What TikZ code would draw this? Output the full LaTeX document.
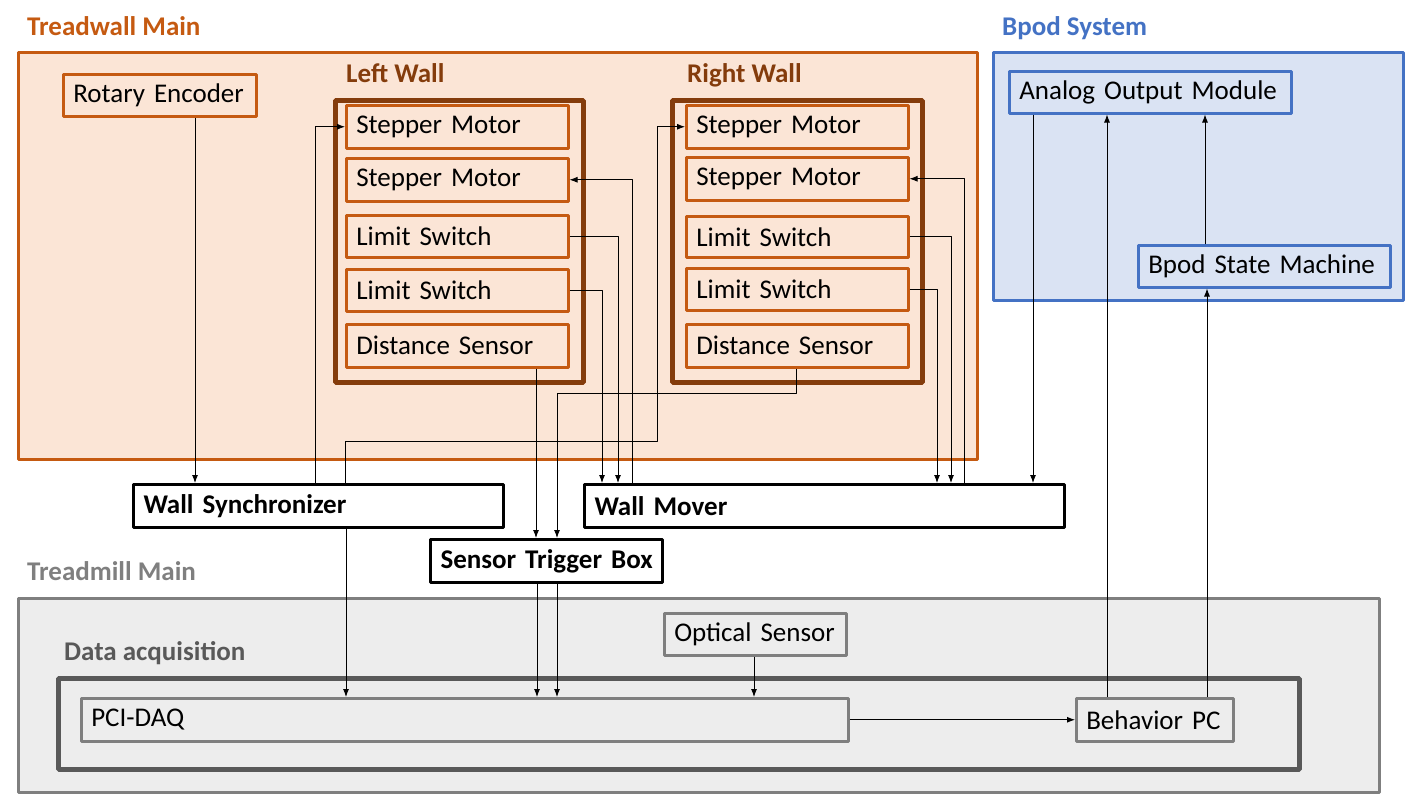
\documentclass[tikz,border=0pt]{standalone}
\usepackage{fontspec}
\setmainfont{Carlito}
\usetikzlibrary{arrows.meta}
\definecolor{twOrange}{HTML}{C55A11}
\definecolor{twFill}{HTML}{FBE5D6}
\definecolor{wallBrown}{HTML}{843C0C}
\definecolor{bpodBlue}{HTML}{4472C4}
\definecolor{bpodFill}{HTML}{DAE3F3}
\definecolor{tmGray}{HTML}{7F7F7F}
\definecolor{tmFill}{HTML}{EDEDED}
\definecolor{daqGray}{HTML}{595959}
\tikzset{
  groupbox/.style={draw,rectangle,anchor=north west,inner sep=0pt},
  grouplabel/.style={anchor=base west,inner sep=0pt,font=\bfseries},
  partbox/.style={draw,rectangle,anchor=north west,inner xsep=10bp,inner ysep=0pt,align=left,line width=2.5bp},
  hubbox/.style={partbox,draw=black,fill=white,line width=3bp,font=\bfseries},
  wire/.style={black,line width=0.9bp},
}
\begin{document}
\fontsize{27bp}{32bp}\selectfont
\begin{tikzpicture}[x=1bp,y=-1bp,>={Latex[length=8bp,width=6bp]},line join=bevel]
\useasboundingbox (0,0) rectangle (1414,805);
%% Treadwall Main
\node (tw_box) at (16.5,51.5) [groupbox,draw=twOrange,fill=twFill,line width=3bp,minimum width=959bp,minimum height=406bp] {};
\node (tw_label) at (27,36) [grouplabel,text=twOrange] {Treadwall Main};
\node (rot_enc) at (62,73) [partbox,draw=twOrange,text width=173bp,minimum height=42bp] {\mbox{Rotary Encoder}};
%
\node (left_wall) at (332.5,97.5) [groupbox,draw=wallBrown,line width=5bp,minimum width=248bp,minimum height=282bp] {};
\node (left_label) at (346,82) [grouplabel,text=wallBrown] {Left Wall};
\node (left_sm1) at (345,104) [partbox,draw=twOrange,text width=202bp,minimum height=43bp] {Stepper Motor};
\node (left_sm2) at (345,157) [partbox,draw=twOrange,text width=202bp,minimum height=43bp] {Stepper Motor};
\node (left_ls1) at (345,214) [partbox,draw=twOrange,text width=202bp,minimum height=42bp] {Limit Switch};
\node (left_ls2) at (345,268) [partbox,draw=twOrange,text width=202bp,minimum height=42bp] {Limit Switch};
\node (left_ds) at (345,323) [partbox,draw=twOrange,text width=202bp,minimum height=43bp] {Distance Sensor};
%
\node (right_wall) at (669.5,97.5) [groupbox,draw=wallBrown,line width=5bp,minimum width=250bp,minimum height=282bp] {};
\node (right_label) at (687,82) [grouplabel,text=wallBrown] {Right Wall};
\node (right_sm1) at (685,104) [partbox,draw=twOrange,text width=202bp,minimum height=43bp] {Stepper Motor};
\node (right_sm2) at (685,156) [partbox,draw=twOrange,text width=202bp,minimum height=43bp] {Stepper Motor};
\node (right_ls1) at (685,215) [partbox,draw=twOrange,text width=202bp,minimum height=41bp] {Limit Switch};
\node (right_ls2) at (685,267) [partbox,draw=twOrange,text width=202bp,minimum height=42bp] {Limit Switch};
\node (right_ds) at (685,323) [partbox,draw=twOrange,text width=202bp,minimum height=43bp] {Distance Sensor};
%% Bpod System
\node (bpod_box) at (991.5,51.5) [groupbox,draw=bpodBlue,fill=bpodFill,line width=3bp,minimum width=410bp,minimum height=247bp] {};
\node (bpod_label) at (1002,36) [grouplabel,text=bpodBlue] {Bpod System};
\node (ao_mod) at (1008,70) [partbox,draw=bpodBlue,text width=262bp,minimum height=42bp] {Analog Output Module};
\node (state_mach) at (1137,244) [partbox,draw=bpodBlue,text width=232bp,minimum height=42bp] {Bpod State Machine};
%% middle boxes
\node (wall_sync) at (132,483) [hubbox,text width=350bp,minimum height=43bp] {Wall Synchronizer};
\node (wall_mover) at (583,483) [hubbox,text width=460bp,minimum height=43bp] {Wall Mover};
\node (trig_box) at (429,538) [hubbox,text width=212bp,minimum height=43bp] {\mbox{Sensor Trigger Box}};
%% Treadmill Main
\node (tm_box) at (16.5,596.5) [groupbox,draw=tmGray,fill=tmFill,line width=3bp,minimum width=1361bp,minimum height=194bp] {};
\node (tm_label) at (27,580) [grouplabel,text=tmGray] {Treadmill Main};
\node (opt_sens) at (663,612) [partbox,draw=tmGray,text width=162bp,minimum height=42bp] {\mbox{Optical Sensor}};
\node (daq_box) at (55.5,675.5) [groupbox,draw=daqGray,line width=5bp,minimum width=1241bp,minimum height=91bp] {};
\node (daq_label) at (64,660) [grouplabel,text=daqGray] {Data acquisition};
\node (pci_daq) at (80,697) [partbox,draw=tmGray,text width=747bp,minimum height=43bp] {PCI-DAQ};
\node (beh_pc) at (1075,697) [partbox,draw=tmGray,text width=137bp,minimum height=43bp] {\mbox{Behavior PC}};
%% connectors
\draw [wire,->] (rot_enc.south -| 195,0) -- (wall_sync.north -| 195,0);
\draw [wire,->] (wall_sync.north -| 315,0) |- (left_sm1.west);
\draw [wire,->] (wall_sync.north -| 345,0) |- (657,441) |- (right_sm1.west);
\draw [wire,->] (wall_sync.south -| 346,0) -- (pci_daq.north -| 346,0);
\draw [wire,->] (left_ls2.east) -| (wall_mover.north -| 602,0);
\draw [wire,->] (left_ls1.east) -| (wall_mover.north -| 618,0);
\draw [wire,->] (wall_mover.north -| 632,0) |- (left_sm2.east);
\draw [wire,->] (right_ls2.east) -| (wall_mover.north -| 937,0);
\draw [wire,->] (right_ls1.east) -| (wall_mover.north -| 951,0);
\draw [wire,->] (wall_mover.north -| 964,0) |- (right_sm2.east);
\draw [wire,->] (ao_mod.south -| 1033,0) -- (wall_mover.north -| 1033,0);
\draw [wire,->] (beh_pc.north -| 1107,0) -- (ao_mod.south -| 1107,0);
\draw [wire,->] (beh_pc.north -| 1207,0) -- (state_mach.south -| 1207,0);
\draw [wire,->] (state_mach.north -| 1205,0) -- (ao_mod.south -| 1205,0);
\draw [wire,->] (left_ds.south -| 536,0) -- (trig_box.north -| 536,0);
\draw [wire,->] (right_ds.south -| 796,0) |- (557,393) -- (trig_box.north -| 557,0);
\draw [wire,->] (trig_box.south -| 537,0) -- (pci_daq.north -| 537,0);
\draw [wire,->] (trig_box.south -| 557,0) -- (pci_daq.north -| 557,0);
\draw [wire,->] (opt_sens.south -| 754,0) -- (pci_daq.north -| 754,0);
\draw [wire,->] (pci_daq.east) -- (beh_pc.west);
%
\end{tikzpicture}
\end{document}
